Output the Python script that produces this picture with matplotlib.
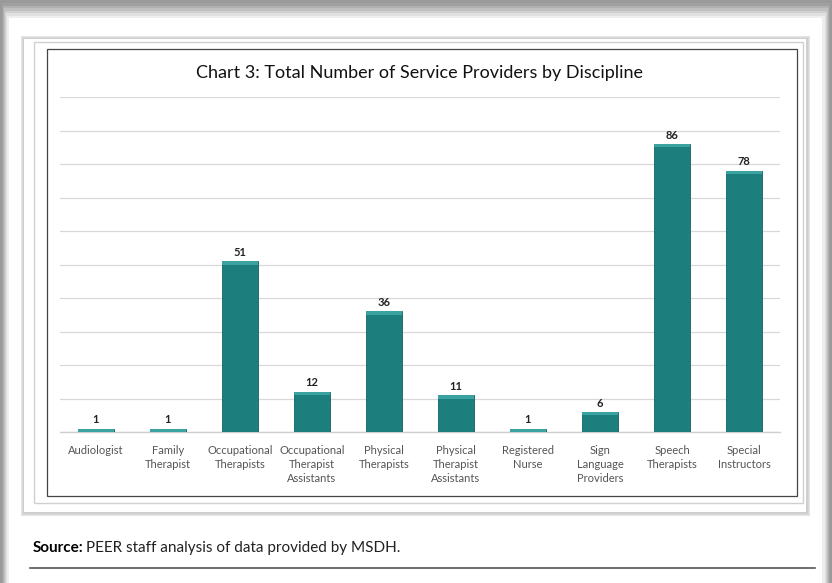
import numpy as np
import matplotlib.pyplot as plt
from matplotlib.patches import Rectangle
from matplotlib.lines import Line2D

categories = ["Audiologist", "Family\nTherapist", "Occupational\nTherapists",
              "Occupational\nTherapist\nAssistants", "Physical\nTherapists",
              "Physical\nTherapist\nAssistants", "Registered\nNurse",
              "Sign\nLanguage\nProviders", "Speech\nTherapists", "Special\nInstructors"]
counts = [1, 1, 51, 12, 36, 11, 1, 6, 86, 78]
title = "Chart 3: Total Number of Service Providers by Discipline"

plt.rcParams['font.family'] = ['Lato', 'DejaVu Sans']

W, H = 832, 583
fig = plt.figure(figsize=(W / 100, H / 100), dpi=100)
fig.patch.set_facecolor('#9a9a9a')


def px(x0, y0, x1, y1):
    # pixel box (top-left origin) -> figure fraction rect
    return (x0 / W, 1 - y1 / H, (x1 - x0) / W, (y1 - y0) / H)


def rect(x0, y0, x1, y1, **kw):
    l, b, w, h = px(x0, y0, x1, y1)
    fig.patches.append(Rectangle((l, b), w, h, transform=fig.transFigure,
                                 zorder=-10, **kw))


# soft gray frame / page
for i, c in enumerate(['#a0a0a0', '#b0b0b0', '#c0c0c0', '#d0d0d0', '#e0e0e0', '#eeeeee']):
    rect(2 + i, 3 + i * 2.5, 830 - i, 583, facecolor=c, edgecolor='none')
rect(9, 18, 822, 583, facecolor='white', edgecolor='none')

# outer chart card with shadow
for i, c in enumerate(['#e4e4e4', '#d9d9d9', '#cfcfcf']):
    rect(21 + i, 36 + i, 810 - i, 516 - i, facecolor=c, edgecolor='none')
rect(24, 39, 806, 512, facecolor='white', edgecolor='none')
rect(34, 42, 803, 503, facecolor='white', edgecolor='#d0d0d0', linewidth=1.0)
rect(47, 49, 797, 496, facecolor='white', edgecolor='#444444', linewidth=0.9)

# source note
fig.text(33 / W, 1 - 548 / H, "Source:", fontsize=11, fontweight='bold',
         color='black', va='center', ha='left')
fig.text(86 / W, 1 - 548 / H, "PEER staff analysis of data provided by MSDH.",
         fontsize=11, color='#222222', va='center', ha='left')
fig.lines.append(Line2D([30 / W, 815 / W], [1 - 568 / H, 1 - 568 / H],
                        transform=fig.transFigure, color='#555555', linewidth=1.2))

ax = fig.add_axes(px(60, 97, 780, 432))
ax.set_facecolor('none')
ax.set_zorder(5)
x = np.arange(len(categories))
ax.bar(x, counts, width=0.5, color='#1c7f7e', edgecolor='#146462',
       linewidth=0.6, zorder=3)
# lighter cap on top of each bar
ax.bar(x, [1.0] * len(counts), bottom=np.array(counts) - 1.0, width=0.5,
       color='#3aa3a1', edgecolor='none', zorder=4)

for xi, v in zip(x, counts):
    ax.text(xi, v + 1.0, str(v), ha='center', va='bottom', fontsize=8,
            fontweight='bold', color='#222222')

ax.set_xlim(-0.5, len(categories) - 0.5)
ax.set_ylim(0, 100)
ax.set_yticks(np.arange(0, 101, 10))
ax.yaxis.grid(True, color='#d8d8d8', linewidth=0.9, zorder=0)
ax.tick_params(axis='y', left=False, labelleft=False)
ax.tick_params(axis='x', bottom=False, pad=6)
ax.set_xticks(x)
ax.set_xticklabels(categories, fontsize=8, color='#555555', linespacing=1.35)
for s in ['top', 'left', 'right']:
    ax.spines[s].set_visible(False)
ax.spines['bottom'].set_color('#d0d0d0')
ax.spines['bottom'].set_linewidth(1.0)

fig.text(420 / W, 1 - 73 / H, title, ha='center', va='center', fontsize=13,
         color='#111111')

fig.savefig('out.png', dpi=100, facecolor=fig.get_facecolor())
